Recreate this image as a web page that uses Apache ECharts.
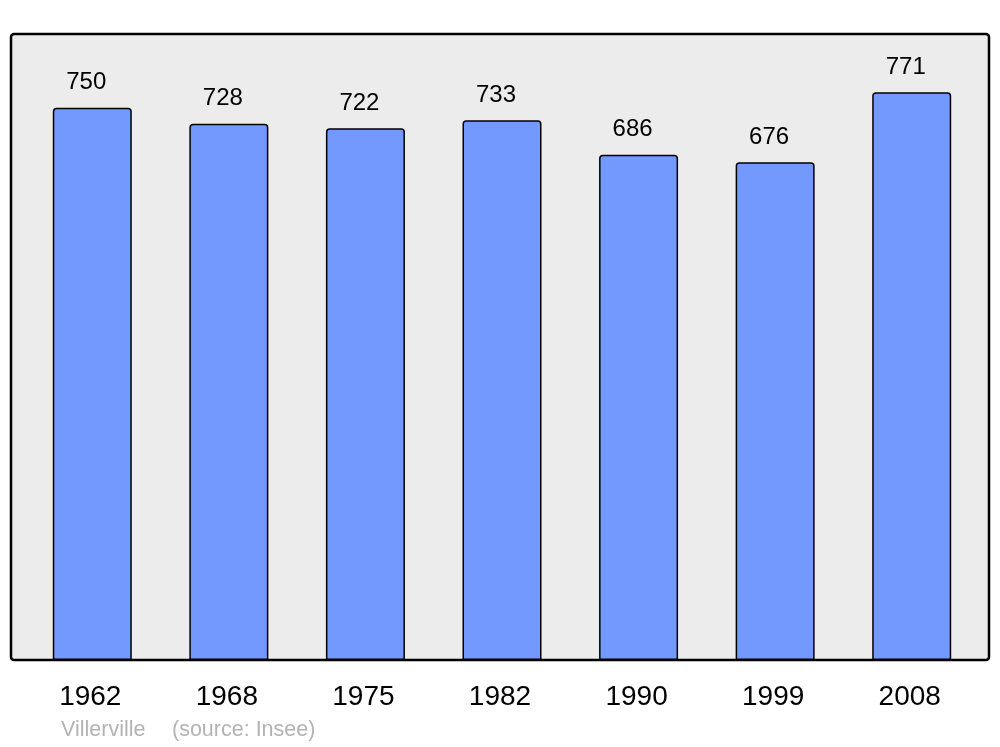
<!DOCTYPE html>
<html><head><meta charset="utf-8">
<script src="https://cdn.jsdelivr.net/npm/echarts@6/dist/echarts.min.js"></script>
<style>html,body{margin:0;padding:0;background:#fff}#c{width:1000px;height:747px}</style>
</head><body><div id="c"></div>
<script>
var years = ['1962','1968','1975','1982','1990','1999','2008'];
var population = [750, 728, 722, 733, 686, 676, 771];
var yMax = 850;
var placeName = 'Villerville';
var sourceText = '(source: Insee)';

var chart = echarts.init(document.getElementById('c'), null, {renderer:'canvas'});
chart.setOption({
  animation:false,
  backgroundColor:'#ffffff',
  graphic:[
    {type:'rect', z:-10, shape:{x:11,y:34,width:978,height:626,r:3},
     style:{fill:'#ececec',stroke:'#000',lineWidth:2.5}},
    {type:'text', left:61, top:719, style:{text:placeName, fill:'#b3b3b3', font:'21.5px "Liberation Sans", Arial, sans-serif'}},
    {type:'text', left:172, top:719, style:{text:sourceText, fill:'#b3b3b3', font:'21.5px "Liberation Sans", Arial, sans-serif'}}
  ],
  grid:{left:24,right:20,top:34,bottom:87},
  xAxis:{type:'category',data:years,
    axisLine:{show:false},axisTick:{show:false},
    axisLabel:{color:'#000',fontSize:28,fontFamily:'Liberation Sans',margin:23,padding:[0,4,0,0]}},
  yAxis:{type:'value',min:0,max:yMax,show:false,splitLine:{show:false}},
  series:[{type:'bar',data:population,barWidth:79,
    itemStyle:{color:'#7399ff',borderColor:'#000',borderWidth:1.5,borderRadius:[3,3,0,0]},
    label:{show:true,position:'top',distance:13,offset:[-6,0],color:'#000',fontSize:24,fontFamily:'Liberation Sans'}}]
});
</script></body></html>
